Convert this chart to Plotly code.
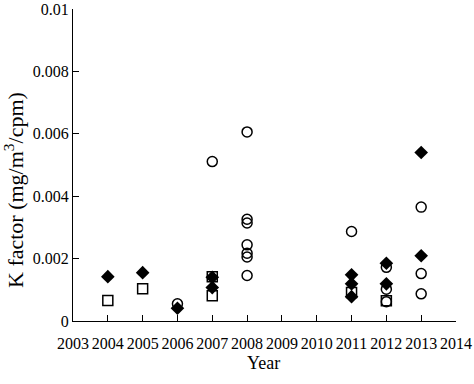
import plotly.graph_objects as go

# Filled diamonds
dia_year = [2004, 2005, 2006, 2007, 2007, 2011, 2011, 2011, 2012, 2012, 2013, 2013]
dia_k = [0.00142, 0.00155, 0.00041, 0.00140, 0.00107, 0.00148, 0.00119, 0.00078, 0.00185, 0.00119, 0.00540, 0.00209]

# Open squares
sq_year = [2004, 2005, 2007, 2007, 2011, 2012]
sq_k = [0.00066, 0.00103, 0.00142, 0.00081, 0.00091, 0.00065]

# Open circles
cir_year = [2006, 2007, 2008, 2008, 2008, 2008, 2008, 2008, 2008, 2011, 2012, 2012, 2012, 2013, 2013, 2013]
cir_k = [0.00055, 0.00511, 0.00606, 0.00326, 0.00314, 0.00244, 0.00217, 0.00205, 0.00146,
         0.00287, 0.00172, 0.00102, 0.00062, 0.00365, 0.00152, 0.00087]

x_ticks = list(range(2003, 2015))
y_ticks = [0, 0.002, 0.004, 0.006, 0.008, 0.01]
y_labels = ["0", "0.002", "0.004", "0.006", "0.008", "0.01"]

fig = go.Figure()
fig.add_trace(go.Scatter(x=cir_year, y=cir_k, mode="markers", name="circle",
                         marker=dict(symbol="circle-open", size=10, color="black", line=dict(width=1.5))))
fig.add_trace(go.Scatter(x=sq_year, y=sq_k, mode="markers", name="square",
                         marker=dict(symbol="square-open", size=10, color="black", line=dict(width=1.5))))
fig.add_trace(go.Scatter(x=dia_year, y=dia_k, mode="markers", name="diamond",
                         marker=dict(symbol="diamond", size=10.5, color="black")))

font = "Liberation Serif, Times New Roman, serif"
H, T, B, L, R, W = 384, 9, 63, 73, 18, 474
ph = H - T - B
pw = W - L - R
fig.update_layout(
    width=W, height=H,
    margin=dict(l=L, r=R, t=T, b=B),
    paper_bgcolor="white", plot_bgcolor="white",
    showlegend=False,
    font=dict(family=font, size=16, color="black"),
    xaxis=dict(range=[2003, 2014], tickvals=x_ticks, ticktext=[str(v) for v in x_ticks],
               showline=True, linecolor="black", linewidth=1.3, showgrid=False, zeroline=False,
               ticks="inside", ticklen=6, tickcolor="black", tickwidth=1.2, automargin=False,
               ticklabelstandoff=8),
    yaxis=dict(range=[0, 0.01], tickvals=y_ticks, ticktext=y_labels,
               showline=True, linecolor="black", linewidth=1.3, showgrid=False, zeroline=False,
               ticks="inside", ticklen=6, tickcolor="black", tickwidth=1.2, automargin=False),
    annotations=[
        dict(text="K factor (mg/m<sup>3</sup>/cpm)", textangle=-90, showarrow=False,
             xref="paper", yref="paper", x=(14 - L) / pw, y=1 - (190 - T) / ph,
             xanchor="center", yanchor="middle", font=dict(size=22)),
        dict(text="Year", showarrow=False, xref="paper", yref="paper",
             x=(263 - L) / pw, y=1 - (363 - T) / ph,
             xanchor="center", yanchor="middle", font=dict(size=18)),
    ],
)
fig.write_html("out.html", config={"displayModeBar": False},
               post_script="document.body.style.margin='0';document.body.style.padding='0';")
